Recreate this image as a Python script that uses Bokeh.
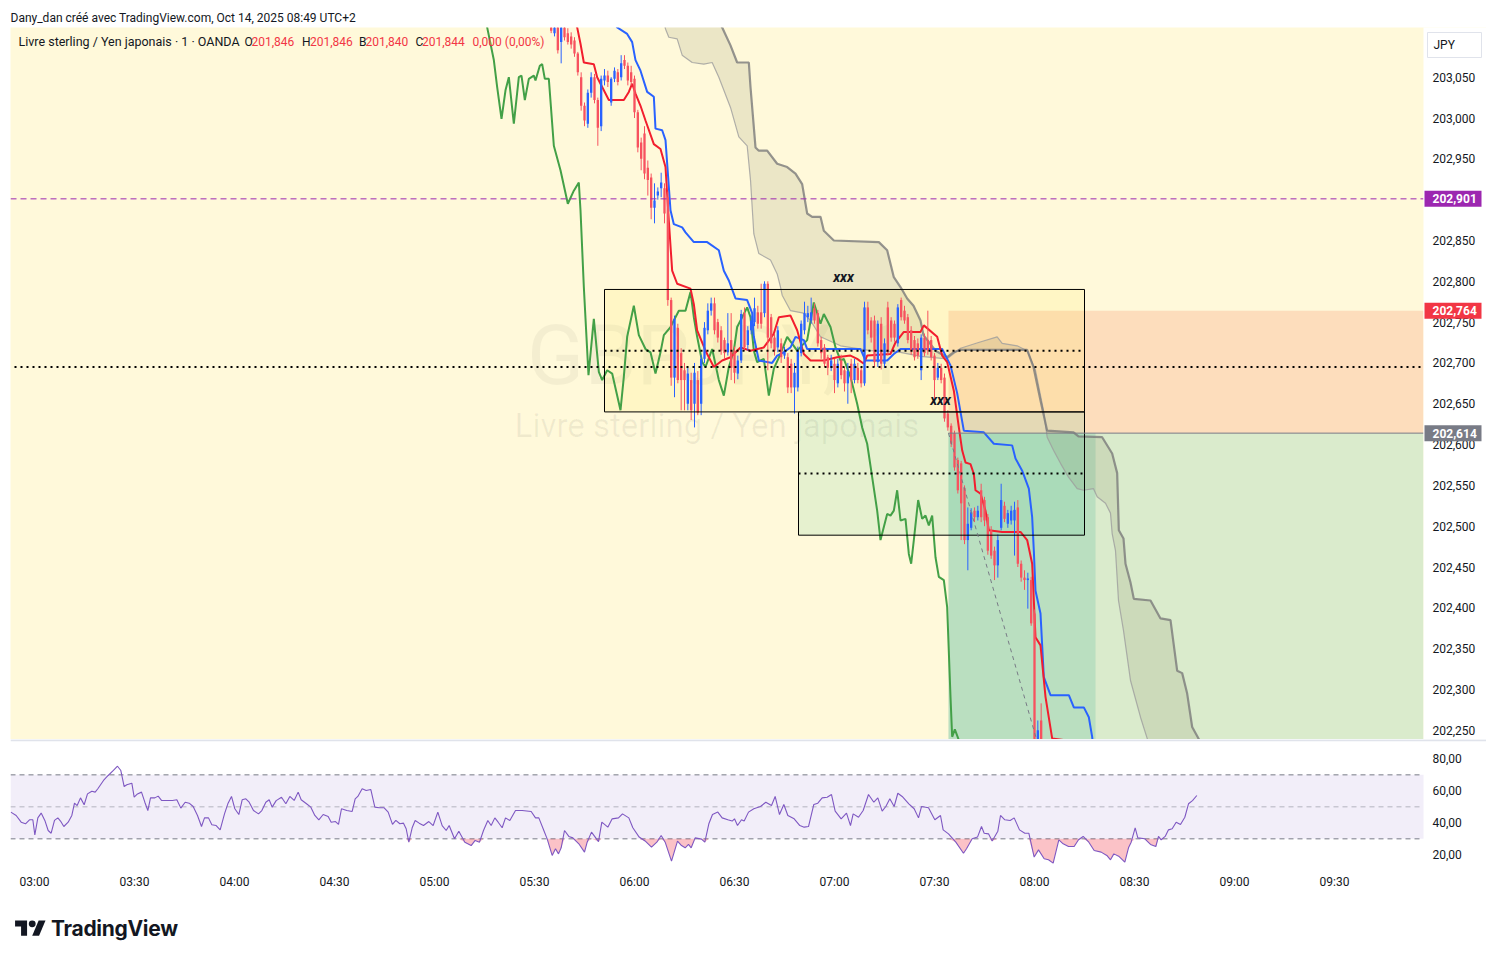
import numpy as np
from bokeh.plotting import figure
from bokeh.models import (Range1d, FixedTicker, CustomJSTickFormatter, Span, Label, Div, Title)
from bokeh.layouts import column
from bokeh.embed import file_html
from bokeh.resources import INLINE
from bokeh.core.properties import value

FONT = "Roboto"
INK = "#131722"
UP = "#2962FF"
DOWN = "#F7525F"

# ---------------- axes ----------------
time_ticks = [180, 210, 240, 270, 300, 330, 360, 390, 420, 450, 480, 510, 540, 570]  # minutes after midnight
price_ticks = [202.25, 202.30, 202.35, 202.40, 202.45, 202.50, 202.55, 202.60, 202.65,
               202.70, 202.75, 202.80, 202.85, 202.90, 202.95, 203.00, 203.05]
rsi_ticks = [20, 40, 60, 80]

# ---------------- 1-minute candles GBP/JPY (05:35 -> 08:02) ----------------
candle_time = list(range(335, 483))
candles_ohlc = [
    (203.120, 203.126, 203.104, 203.107), (203.104, 203.120, 203.100, 203.115),
    (203.111, 203.118, 203.079, 203.083), (203.093, 203.130, 203.067, 203.116),
    (203.118, 203.125, 203.095, 203.099), (203.104, 203.110, 203.090, 203.093),
    (203.100, 203.105, 203.085, 203.090), (203.095, 203.099, 203.075, 203.079),
    (203.079, 203.081, 203.052, 203.056), (203.050, 203.056, 203.009, 203.015),
    (203.015, 203.019, 202.990, 202.997), (202.993, 203.035, 202.988, 203.031),
    (203.031, 203.056, 203.025, 203.050), (203.050, 203.054, 203.018, 203.022),
    (203.022, 203.025, 202.966, 202.988), (202.990, 203.052, 202.984, 203.048),
    (203.046, 203.060, 203.040, 203.052), (203.052, 203.058, 203.038, 203.044),
    (203.019, 203.050, 203.015, 203.048), (203.048, 203.062, 203.044, 203.058),
    (203.056, 203.060, 203.040, 203.044), (203.050, 203.077, 203.046, 203.067),
    (203.071, 203.077, 203.060, 203.064), (203.064, 203.068, 203.040, 203.046),
    (203.056, 203.064, 203.040, 203.044), (203.048, 203.052, 203.000, 203.007),
    (203.007, 203.010, 202.958, 202.964), (202.970, 202.976, 202.936, 202.950),
    (202.981, 202.990, 202.925, 202.932), (202.939, 202.948, 202.905, 202.924),
    (202.927, 202.932, 202.876, 202.890), (202.890, 202.920, 202.871, 202.899),
    (202.905, 202.915, 202.900, 202.910), (202.914, 202.933, 202.903, 202.921),
    (202.914, 202.920, 202.871, 202.883), (202.903, 202.910, 202.770, 202.777),
    (202.777, 202.780, 202.672, 202.682), (202.682, 202.758, 202.658, 202.754),
    (202.743, 202.748, 202.675, 202.679), (202.712, 202.718, 202.642, 202.679),
    (202.691, 202.700, 202.642, 202.679), (202.650, 202.694, 202.642, 202.687),
    (202.679, 202.688, 202.630, 202.642), (202.650, 202.700, 202.621, 202.688),
    (202.679, 202.690, 202.636, 202.639), (202.650, 202.710, 202.636, 202.705),
    (202.705, 202.750, 202.700, 202.743), (202.740, 202.773, 202.735, 202.764),
    (202.764, 202.780, 202.758, 202.773), (202.773, 202.780, 202.735, 202.740),
    (202.750, 202.754, 202.725, 202.731), (202.740, 202.745, 202.710, 202.715),
    (202.728, 202.731, 202.705, 202.712), (202.713, 202.761, 202.709, 202.724),
    (202.728, 202.761, 202.679, 202.694), (202.715, 202.720, 202.675, 202.688),
    (202.687, 202.709, 202.680, 202.703), (202.703, 202.765, 202.700, 202.760),
    (202.761, 202.768, 202.715, 202.719), (202.722, 202.745, 202.715, 202.740),
    (202.740, 202.758, 202.735, 202.752), (202.750, 202.780, 202.745, 202.767),
    (202.762, 202.770, 202.742, 202.748), (202.762, 202.797, 202.742, 202.748),
    (202.761, 202.800, 202.756, 202.797), (202.797, 202.800, 202.691, 202.731),
    (202.756, 202.760, 202.718, 202.724), (202.731, 202.736, 202.709, 202.715),
    (202.719, 202.745, 202.713, 202.740), (202.724, 202.730, 202.700, 202.707),
    (202.709, 202.720, 202.705, 202.715), (202.707, 202.712, 202.663, 202.670),
    (202.699, 202.705, 202.663, 202.670), (202.670, 202.700, 202.638, 202.688),
    (202.670, 202.720, 202.665, 202.715), (202.712, 202.752, 202.708, 202.748),
    (202.740, 202.775, 202.735, 202.761), (202.756, 202.770, 202.750, 202.761),
    (202.752, 202.780, 202.748, 202.762), (202.767, 202.773, 202.748, 202.752),
    (202.761, 202.765, 202.720, 202.724), (202.728, 202.732, 202.705, 202.712),
    (202.719, 202.723, 202.695, 202.699), (202.707, 202.710, 202.685, 202.694),
    (202.694, 202.710, 202.690, 202.703), (202.699, 202.705, 202.663, 202.679),
    (202.675, 202.705, 202.670, 202.699), (202.703, 202.710, 202.680, 202.685),
    (202.691, 202.695, 202.665, 202.675), (202.675, 202.700, 202.650, 202.690),
    (202.699, 202.705, 202.663, 202.679), (202.679, 202.705, 202.675, 202.699),
    (202.694, 202.700, 202.675, 202.679), (202.691, 202.695, 202.670, 202.675),
    (202.675, 202.775, 202.672, 202.768), (202.768, 202.775, 202.735, 202.740),
    (202.752, 202.756, 202.725, 202.731), (202.752, 202.758, 202.695, 202.701),
    (202.701, 202.752, 202.695, 202.748), (202.748, 202.756, 202.692, 202.699),
    (202.699, 202.730, 202.694, 202.724), (202.768, 202.775, 202.709, 202.713),
    (202.752, 202.756, 202.726, 202.731), (202.748, 202.752, 202.726, 202.731),
    (202.724, 202.772, 202.720, 202.768), (202.777, 202.780, 202.752, 202.756),
    (202.764, 202.770, 202.748, 202.752), (202.756, 202.760, 202.724, 202.728),
    (202.740, 202.745, 202.710, 202.715), (202.728, 202.733, 202.703, 202.707),
    (202.724, 202.730, 202.705, 202.709), (202.691, 202.735, 202.679, 202.731),
    (202.731, 202.736, 202.708, 202.712), (202.728, 202.764, 202.710, 202.715),
    (202.728, 202.733, 202.703, 202.707), (202.709, 202.712, 202.654, 202.679),
    (202.682, 202.700, 202.679, 202.694), (202.694, 202.699, 202.675, 202.679),
    (202.682, 202.687, 202.628, 202.632), (202.638, 202.642, 202.617, 202.621),
    (202.623, 202.626, 202.597, 202.601), (202.614, 202.617, 202.568, 202.572),
    (202.581, 202.584, 202.540, 202.544), (202.577, 202.580, 202.483, 202.528),
    (202.547, 202.550, 202.478, 202.483), (202.483, 202.523, 202.446, 202.503),
    (202.498, 202.522, 202.495, 202.517), (202.519, 202.523, 202.505, 202.511),
    (202.511, 202.525, 202.507, 202.519), (202.544, 202.552, 202.505, 202.511),
    (202.532, 202.536, 202.500, 202.507), (202.511, 202.515, 202.465, 202.470),
    (202.495, 202.500, 202.460, 202.464), (202.470, 202.475, 202.434, 202.452),
    (202.452, 202.490, 202.437, 202.483), (202.498, 202.552, 202.495, 202.532),
    (202.525, 202.530, 202.505, 202.509), (202.503, 202.520, 202.498, 202.516),
    (202.507, 202.525, 202.502, 202.519), (202.507, 202.530, 202.464, 202.520),
    (202.523, 202.532, 202.450, 202.454), (202.454, 202.458, 202.432, 202.437),
    (202.437, 202.446, 202.422, 202.434), (202.434, 202.443, 202.399, 202.436),
    (202.434, 202.438, 202.378, 202.381), (202.393, 202.398, 202.180, 202.190),
    (202.190, 202.262, 202.185, 202.250), (202.262, 202.283, 202.205, 202.215),
]
open_, high, low, close = (list(v) for v in zip(*candles_ohlc))

# ---------------- Ichimoku-like lines ----------------
kijun_time = [352.8, 354.8, 357.8, 359.3, 360.3, 361.8, 363.8, 365.8, 366.3, 368.3, 369.3, 370.8,
              371.8, 374.3, 375.3, 377.8, 381.8, 385.3, 386.8, 388.3, 390.3, 393.8, 395.3, 395.8,
              397.3, 401.3, 402.8, 404.8, 406.8, 408.3, 410.8, 411.8, 427.8, 429.3, 435.8, 437.8,
              439.8, 452.3, 454.8, 456.8, 458.8, 464.8, 467.8, 473.3, 474.3, 476.3, 478.3, 479.3,
              479.8, 480.3, 481.8, 482.8, 484.8, 490.3, 491.8, 494.8, 496.3, 497.3, 498.0]
kijun = [203.126, 203.111, 203.103, 203.093, 203.071, 203.058, 203.032, 203.026, 202.987, 202.985,
         202.973, 202.887, 202.870, 202.866, 202.860, 202.848, 202.848, 202.838, 202.813, 202.801,
         202.779, 202.777, 202.761, 202.732, 202.703, 202.700, 202.709, 202.713, 202.719, 202.732,
         202.728, 202.717, 202.717, 202.703, 202.703, 202.711, 202.717, 202.717, 202.697, 202.663,
         202.617, 202.615, 202.601, 202.599, 202.583, 202.568, 202.546, 202.511, 202.470, 202.421,
         202.393, 202.315, 202.293, 202.293, 202.278, 202.278, 202.266, 202.242, 202.213]

tenkan_time = [340.8, 342.8, 343.8, 344.8, 347.8, 348.8, 352.3, 356.8, 358.3, 359.3, 360.3, 361.8,
               363.3, 365.8, 367.8, 369.3, 370.3, 371.3, 372.8, 376.8, 377.8, 378.8, 381.3, 383.8,
               386.3, 388.8, 391.8, 394.8, 398.8, 401.8, 403.3, 406.8, 408.8, 410.8, 412.8, 416.8,
               420.8, 424.8, 426.8, 428.8, 429.8, 436.8, 438.3, 440.8, 445.8, 446.8, 450.8, 452.3,
               453.8, 455.8, 457.3, 458.3, 459.3, 460.8, 461.8, 462.3, 463.8, 465.3, 466.3, 470.3,
               475.8, 477.8, 479.3, 480.3, 481.8, 483.3, 485.3, 488.8]
tenkan = [203.126, 203.111, 203.091, 203.068, 203.066, 203.050, 203.022, 203.022, 203.032, 203.042,
          203.030, 203.015, 202.997, 202.968, 202.962, 202.940, 202.874, 202.813, 202.797, 202.791,
          202.772, 202.740, 202.715, 202.695, 202.703, 202.707, 202.719, 202.715, 202.719, 202.736,
          202.756, 202.758, 202.740, 202.711, 202.703, 202.703, 202.707, 202.709, 202.705, 202.699,
          202.709, 202.711, 202.725, 202.738, 202.738, 202.746, 202.732, 202.709, 202.701, 202.666,
          202.621, 202.593, 202.578, 202.576, 202.564, 202.544, 202.540, 202.519, 202.495, 202.493,
          202.493, 202.483, 202.454, 202.364, 202.354, 202.291, 202.240, 202.238]

lagging_time = [315.0, 315.8, 317.8, 318.8, 320.1, 321.3, 322.3, 323.8, 325.3, 326.1,
                327.1, 328.3, 329.8, 330.3, 331.6, 332.3, 333.1, 334.3, 335.8, 337.8,
                340.0, 341.8, 343.3, 343.8, 344.8, 346.2, 347.8, 349.3, 350.3, 351.8,
                353.3, 355.8, 356.8, 357.8, 359.8, 361.3, 363.3, 364.8, 366.3, 367.8,
                368.8, 370.8, 373.3, 375.3, 376.8, 377.8, 378.8, 380.3, 381.3, 383.3,
                385.3, 386.8, 388.3, 389.8, 390.8, 392.8, 393.8, 394.8, 395.8, 396.8,
                398.8, 400.3, 401.8, 403.8, 405.8, 408.8, 411.8, 413.8, 415.8, 416.8,
                418.8, 420.3, 421.8, 422.8, 424.8, 426.8, 428.3, 429.8, 431.3, 432.8,
                433.8, 434.8, 435.8, 436.8, 437.8, 438.8, 439.8, 441.3, 442.3, 443.0,
                443.8, 445.1, 446.3, 447.3, 448.3, 449.3, 450.3, 451.3, 452.8, 453.8,
                454.8, 455.3, 456.1, 457.3, 458.4]
lagging = [203.126, 203.111, 203.071, 203.038, 202.999, 203.034, 203.050, 202.993, 203.050, 203.052,
           203.022, 203.048, 203.052, 203.046, 203.064, 203.066, 203.048, 203.048, 202.966, 202.936,
           202.895, 202.911, 202.921, 202.887, 202.793, 202.685, 202.754, 202.689, 202.679, 202.691,
           202.687, 202.642, 202.683, 202.732, 202.770, 202.734, 202.717, 202.713, 202.687, 202.713,
           202.734, 202.744, 202.764, 202.764, 202.787, 202.756, 202.732, 202.701, 202.695, 202.717,
           202.679, 202.660, 202.695, 202.715, 202.744, 202.760, 202.768, 202.756, 202.715, 202.701,
           202.705, 202.660, 202.693, 202.711, 202.732, 202.715, 202.728, 202.774, 202.748, 202.760,
           202.744, 202.719, 202.703, 202.705, 202.683, 202.650, 202.621, 202.601, 202.560, 202.519,
           202.483, 202.499, 202.515, 202.513, 202.519, 202.544, 202.507, 202.509, 202.466, 202.454,
           202.483, 202.532, 202.509, 202.513, 202.501, 202.513, 202.462, 202.438, 202.434, 202.401,
           202.291, 202.242, 202.251, 202.238, 202.213]

span_a_time = [368.4, 369.3, 370.3, 372.8, 374.3, 377.3, 380.8, 383.3, 385.3, 388.8,
               391.3, 393.8, 394.8, 395.8, 397.3, 400.8, 402.8, 403.8, 404.3, 406.8,
               410.7, 412.8, 415.8, 421.8, 430.8, 439.8, 445.8, 453.8, 457.8, 463.2,
               468.8, 470.3, 474.8, 477.8, 480.3, 482.7, 483.8, 485.7, 487.8, 490.2,
               492.8, 494.7, 497.7, 498.8, 501.3, 502.8, 503.3, 504.3, 505.2, 506.7,
               508.8, 511.8, 513.8, 515.4]
span_a = [203.126, 203.109, 203.099, 203.097, 203.077, 203.068, 203.066, 203.068, 203.050, 203.013,
          202.977, 202.966, 202.924, 202.858, 202.834, 202.826, 202.809, 202.793, 202.783, 202.764,
          202.761, 202.752, 202.732, 202.721, 202.715, 202.713, 202.708, 202.705, 202.718, 202.725,
          202.732, 202.724, 202.721, 202.715, 202.691, 202.642, 202.609, 202.593, 202.577, 202.560,
          202.546, 202.544, 202.546, 202.536, 202.528, 202.516, 202.491, 202.470, 202.409, 202.372,
          202.311, 202.266, 202.240, 202.219]

span_b_time = [384.3, 386.3, 388.8, 390.8, 394.3, 394.8, 396.3, 397.3, 399.8, 402.8,
               405.8, 408.3, 410.3, 411.8, 413.3, 415.8, 416.8, 419.8, 433.3, 435.8,
               437.8, 439.8, 441.8, 443.7, 445.8, 446.7, 450.3, 453.8, 455.7, 457.8,
               477.8, 479.7, 481.8, 483.8, 491.7, 493.2, 500.3, 503.3, 504.8, 505.3,
               506.7, 507.3, 508.8, 509.8, 514.8, 517.8, 520.8, 522.8, 524.3, 525.8,
               527.3, 529.2, 531.3]
span_b = [203.126, 203.111, 203.089, 203.068, 203.068, 203.038, 202.964, 202.960, 202.960, 202.944,
          202.940, 202.932, 202.919, 202.883, 202.879, 202.879, 202.862, 202.850, 202.848, 202.838,
          202.805, 202.793, 202.779, 202.770, 202.752, 202.734, 202.715, 202.707, 202.713, 202.716,
          202.716, 202.695, 202.654, 202.617, 202.615, 202.610, 202.609, 202.589, 202.565, 202.495,
          202.485, 202.454, 202.431, 202.411, 202.409, 202.387, 202.385, 202.323, 202.320, 202.295,
          202.254, 202.240, 202.219]

# ---------------- RSI (time, value) ----------------
rsi_points = [
    (172.9, 46.7), (174.5, 44.6), (176.0, 40.4), (177.3, 39.4), (178.5, 41.9), (179.5, 41.9),
    (180.1, 32.5), (181.0, 43.1), (182.0, 46.1), (183.1, 41.5), (184.1, 35.2), (185.0, 33.5),
    (186.0, 41.5), (187.0, 43.1), (187.8, 41.1), (188.8, 37.7), (190.1, 40.4), (191.2, 44.6),
    (192.0, 52.3), (192.8, 50.8), (193.8, 55.6), (194.9, 51.3), (195.9, 58.1), (197.2, 59.8),
    (198.2, 59.2), (199.0, 61.3), (200.7, 66.5), (202.1, 69.6), (203.6, 72.7), (204.9, 75.4),
    (205.9, 72.7), (206.9, 62.7), (207.7, 63.8), (209.2, 64.8), (209.9, 56.1), (210.9, 58.1),
    (212.1, 59.2), (213.1, 52.9), (214.0, 47.7), (214.8, 55.6), (216.1, 55.6), (217.1, 56.7),
    (218.1, 54.0), (219.6, 54.0), (221.4, 54.0), (222.7, 54.4), (223.9, 49.2), (225.2, 52.9),
    (226.4, 52.3), (227.6, 50.2), (228.9, 44.6), (230.1, 37.7), (231.0, 43.1), (232.2, 43.1),
    (233.2, 38.8), (234.5, 38.3), (235.7, 35.6), (237.0, 45.6), (238.0, 51.9), (239.1, 56.5),
    (240.1, 48.8), (241.3, 45.2), (242.3, 54.4), (243.4, 55.0), (244.4, 52.9), (245.7, 47.7),
    (247.2, 45.6), (248.2, 47.7), (249.4, 52.9), (250.4, 54.4), (251.3, 49.8), (252.5, 53.9),
    (254.1, 56.0), (255.4, 51.9), (256.6, 56.5), (257.9, 54.0), (259.1, 59.2), (260.0, 54.4),
    (261.6, 51.9), (262.9, 49.8), (264.1, 44.6), (265.3, 41.9), (266.6, 45.2), (268.1, 44.0),
    (269.0, 40.4), (270.3, 40.8), (271.2, 39.0), (272.1, 48.8), (273.7, 47.7), (275.3, 47.1),
    (276.2, 55.0), (277.0, 56.5), (278.3, 61.3), (279.5, 60.2), (280.9, 60.8), (282.1, 49.8),
    (283.4, 49.4), (284.9, 49.4), (286.1, 46.7), (287.4, 39.0), (288.4, 41.5), (289.6, 39.4),
    (290.7, 39.8), (291.5, 36.3), (292.3, 27.9), (293.3, 36.9), (294.2, 41.5), (295.4, 39.8),
    (296.7, 38.3), (298.3, 40.8), (299.6, 38.3), (301.0, 46.7), (302.3, 38.3), (303.5, 35.2),
    (304.4, 38.3), (306.0, 30.0), (307.3, 34.8), (309.1, 27.9), (311.0, 25.8), (312.2, 29.0),
    (313.5, 27.9), (314.7, 35.2), (316.0, 41.5), (317.0, 38.3), (318.1, 43.1), (319.1, 40.4),
    (320.3, 36.9), (321.3, 43.1), (322.6, 41.5), (324.3, 47.7), (326.3, 47.7), (329.0, 47.1),
    (330.3, 43.1), (331.3, 43.1), (332.8, 35.2), (333.8, 30.0), (335.3, 19.6), (336.3, 23.8),
    (337.2, 20.6), (338.0, 24.4), (339.0, 35.2), (340.3, 31.5), (341.5, 30.6), (343.3, 26.9),
    (345.0, 21.7), (345.8, 27.9), (347.1, 34.2), (349.2, 28.3), (350.2, 40.4), (352.0, 37.3),
    (353.3, 42.5), (355.2, 43.1), (356.4, 45.6), (358.3, 43.1), (359.5, 36.9), (361.4, 31.1),
    (363.4, 28.3), (365.1, 24.8), (366.7, 27.9), (368.0, 32.1), (369.2, 27.9), (371.1, 16.1),
    (372.9, 28.6), (374.1, 25.8), (375.2, 24.4), (376.2, 26.5), (377.0, 24.4), (378.2, 30.6),
    (380.1, 29.8), (381.1, 27.9), (382.3, 39.4), (383.4, 45.2), (385.0, 46.7), (386.3, 43.1),
    (388.0, 41.9), (389.3, 41.1), (390.0, 42.5), (390.9, 38.3), (392.1, 41.9), (392.9, 41.1),
    (394.2, 46.7), (395.8, 48.8), (397.8, 50.2), (399.4, 52.9), (401.1, 50.8), (402.2, 56.5),
    (403.5, 45.2), (404.8, 51.5), (406.0, 44.6), (407.9, 42.5), (409.6, 38.3), (410.9, 37.3),
    (412.2, 37.7), (413.8, 51.5), (415.0, 52.3), (416.3, 55.6), (417.8, 56.0), (419.1, 57.7),
    (420.2, 47.3), (422.0, 42.5), (423.6, 46.1), (424.8, 38.3), (425.6, 45.6), (427.2, 43.5),
    (428.6, 47.7), (430.2, 57.7), (431.8, 52.9), (433.0, 55.6), (434.3, 47.3), (435.4, 50.2),
    (436.6, 55.0), (437.9, 50.2), (439.0, 58.5), (440.3, 56.5), (442.3, 51.9), (443.9, 48.8),
    (445.2, 43.1), (446.1, 50.2), (448.2, 49.4), (450.1, 41.9), (451.8, 44.6), (452.6, 35.6),
    (454.2, 33.1), (456.4, 27.9), (458.7, 21.0), (459.6, 23.8), (461.3, 30.0), (462.9, 31.1),
    (464.1, 37.7), (464.9, 33.5), (466.2, 33.1), (467.3, 28.6), (469.0, 34.8), (469.8, 44.6),
    (471.1, 41.9), (472.7, 41.5), (473.9, 43.1), (475.5, 35.6), (477.1, 33.5), (478.3, 33.5),
    (479.9, 18.6), (481.2, 23.1), (482.9, 17.5), (484.2, 16.9), (485.6, 14.8), (487.3, 29.4),
    (488.6, 26.9), (490.2, 25.2), (491.9, 25.2), (493.2, 29.4), (494.6, 31.5), (496.3, 27.9),
    (497.9, 22.7), (500.0, 21.7), (501.7, 19.6), (502.8, 16.9), (503.8, 20.6), (505.4, 18.9),
    (507.1, 15.4), (508.2, 24.4), (509.0, 27.9), (510.2, 36.9), (511.0, 30.6), (513.1, 30.0),
    (514.8, 26.5), (516.4, 25.2), (517.2, 31.5), (518.0, 29.4), (519.2, 31.5), (520.2, 35.6),
    (521.3, 36.3), (522.5, 40.4), (523.8, 38.9), (525.1, 43.5), (526.2, 51.9), (527.4, 53.9),
    (528.7, 57.1),
]
rsi_time, rsi_value = (list(v) for v in zip(*rsi_points))
rsi_upper, rsi_mid, rsi_lower = 70, 50, 30

# ---------------- drawings ----------------
purple_level = 202.901
hline_level = 202.695
hline_start = 174.0
box_left = [351.0, 409.2]
box_right = [495.0, 495.0]
box_top = [202.790, 202.640]
box_bottom = [202.640, 202.489]
box_colors = ["#FFEB3B", "#3CBE8C"]
mark_time = [422.7, 451.8]
mark_price = [202.805, 202.654]
mark_text = ["xxx", "xxx"]
pos_start, pos_active_end = 454.2, 498.3
pos_entry, pos_stop, pos_target = 202.614, 202.764, 202.100
trade_path_time = [454.2, 481.8]
trade_path_price = [202.614, 202.222]
tag_levels = [purple_level, pos_stop, pos_entry]
tag_colors = ["#9C27B0", "#F23645", "#787B86"]

# ---------------- geometry of the panes ----------------
T0, T_PANE = 172.8, 596.7          # visible time span of the chart panes
MIN_PER_PX = 0.3                    # 1 minute = 3.33 px
P_LO, P_HI = 202.2387, 203.1109
R_LO, R_HI = 10.2, 92.1
FRAME_W, FRAME_H = 1413, 712
SCALE_W = 63                        # width of the right-hand scale strip
T_END = T_PANE + SCALE_W * MIN_PER_PX
PRICE_PER_PX = (P_HI - P_LO) / FRAME_H
LABEL_X = T_PANE + 9 * MIN_PER_PX

def fmt_price(v):
    return f"{v:.3f}".replace(".", ",")

# ================= price pane (frame includes the price scale strip) =================
p1 = figure(width=1486, height=739, x_range=Range1d(T0, T_END), y_range=Range1d(P_LO, P_HI),
            output_backend="svg", toolbar_location=None,
            x_axis_location=None, y_axis_location=None,
            min_border_left=10, min_border_right=0, min_border_top=27, min_border_bottom=0,
            background_fill_color="#FFF9DA", border_fill_color=None,
            outline_line_color=None)
p1.add_layout(Title(text="Dany_dan créé avec TradingView.com, Oct 14, 2025 08:49 UTC+2",
                    text_font=FONT, text_font_size="12px", text_font_style="normal",
                    text_color=INK, align="left", standoff=6), "above")
p1.grid.visible = False

# watermark
p1.add_layout(Label(x=FRAME_W / 2, y=384, x_units="screen", y_units="screen", text="GBPJPY, 1",
                    text_font=FONT, text_font_size="84px", text_color="#000000", text_alpha=0.045,
                    text_align="center", text_baseline="middle", level="underlay"))
p1.add_layout(Label(x=FRAME_W / 2, y=314, x_units="screen", y_units="screen",
                    text="Livre sterling / Yen japonais",
                    text_font=FONT, text_font_size="33px", text_color="#000000", text_alpha=0.06,
                    text_align="center", text_baseline="middle", level="underlay"))

# position tool (short)
p1.quad(left=[pos_start], right=[T_PANE], bottom=[pos_entry], top=[pos_stop],
        fill_color="#F57C52", fill_alpha=0.22, line_color=None)
p1.quad(left=[pos_start], right=[T_PANE], bottom=[pos_target], top=[pos_entry],
        fill_color="#089981", fill_alpha=0.15, line_color=None)
p1.quad(left=[pos_start], right=[pos_active_end], bottom=[pos_target], top=[pos_entry],
        fill_color="#089981", fill_alpha=0.15, line_color=None)

# rectangles fill
p1.quad(left=box_left, right=box_right, bottom=box_bottom, top=box_top,
        fill_color=box_colors, fill_alpha=0.13, line_color=None)

# cloud
p1.patch(span_b_time + span_a_time[::-1], span_b + span_a[::-1],
         fill_color="#808060", fill_alpha=0.16, line_color=None)
p1.line(span_a_time, span_a, line_color="#9E9E9E", line_width=1.2, line_alpha=0.8)
p1.line(span_b_time, span_b, line_color="#7B7B7B", line_width=2.2, line_alpha=0.8)

# lines
p1.line(lagging_time, lagging, line_color="#43A047", line_width=2)
p1.line(kijun_time, kijun, line_color="#2962FF", line_width=2)
p1.line(tenkan_time, tenkan, line_color="#F21E2E", line_width=2)

# candles
colors = [UP if c >= o else DOWN for o, c in zip(open_, close)]
p1.segment(x0=candle_time, y0=low, x1=candle_time, y1=high, line_color=colors, line_width=1)
p1.vbar(x=candle_time, width=0.7, top=[max(o, c) for o, c in zip(open_, close)],
        bottom=[min(o, c) for o, c in zip(open_, close)], fill_color=colors, line_color=None)

# rectangles outline + middle dotted lines
p1.quad(left=box_left, right=box_right, bottom=box_bottom, top=box_top,
        fill_color=None, line_color="#000000", line_width=1)
box_mid = [(t + b) / 2 for t, b in zip(box_top, box_bottom)]
p1.segment(x0=box_left, y0=box_mid, x1=box_right, y1=box_mid,
           line_color="#000000", line_width=2, line_dash="2 4")

# horizontal levels
p1.segment(x0=[hline_start], y0=[hline_level], x1=[T_PANE], y1=[hline_level],
           line_color="#000000", line_width=2, line_dash="2 4")
p1.segment(x0=[T0], y0=[purple_level], x1=[T_PANE], y1=[purple_level],
           line_color="#9C27B0", line_width=1, line_dash="6 4")
p1.segment(x0=[pos_start], y0=[pos_entry], x1=[T_PANE], y1=[pos_entry],
           line_color="#787B86", line_width=1)
p1.line(trade_path_time, trade_path_price, line_color="#787B86", line_width=1, line_dash="4 4")

p1.text(x=mark_time, y=mark_price, text=mark_text, text_font=value(FONT),
        text_font_style="bold italic", text_font_size="14px", text_color=INK,
        text_align="center", text_baseline="middle")

# legend
legend_items = [
    (8, "Livre sterling / Yen japonais · 1 · OANDA", INK, "12.5px"),
    (234, "O", INK, "12px"), (241, "201,846", "#F23645", "12px"),
    (291.5, "H", INK, "12px"), (299.5, "201,846", "#F23645", "12px"),
    (348.5, "B", INK, "12px"), (355, "201,840", "#F23645", "12px"),
    (405, "C", INK, "12px"), (411.5, "201,844", "#F23645", "12px"),
    (462, "0,000 (0,00%)", "#F23645", "12px"),
]
for lx, txt, col, fs in legend_items:
    p1.add_layout(Label(x=lx, y=FRAME_H - 14, x_units="screen", y_units="screen", text=txt,
                        text_font=FONT, text_font_size=fs, text_color=col, text_baseline="middle"))

# ---- price scale (right strip of the frame) ----
p1.quad(left=[T_PANE], right=[T_END + 5], bottom=[P_LO - 1], top=[P_HI + 1],
        fill_color="white", line_color=None)
p1.text(x=[LABEL_X] * len(price_ticks), y=price_ticks, text=[fmt_price(v) for v in price_ticks],
        text_font=value(FONT), text_font_size="12px", text_color=INK,
        text_align="left", text_baseline="middle")
half_tag = 8 * PRICE_PER_PX
p1.quad(left=[T_PANE + 1 * MIN_PER_PX] * 3, right=[T_PANE + 58 * MIN_PER_PX] * 3,
        bottom=[v - half_tag for v in tag_levels], top=[v + half_tag for v in tag_levels],
        fill_color=tag_colors, line_color=None)
p1.text(x=[LABEL_X] * 3, y=tag_levels, text=[fmt_price(v) for v in tag_levels],
        text_font=value(FONT), text_font_size="12px", text_font_style="bold",
        text_color="white", text_align="left", text_baseline="middle")
# currency button
jpy_top = P_HI - 5 * PRICE_PER_PX
jpy_bottom = P_HI - 30 * PRICE_PER_PX
p1.quad(left=[T_PANE + 4 * MIN_PER_PX], right=[T_PANE + 58 * MIN_PER_PX],
        bottom=[jpy_bottom], top=[jpy_top], fill_color="white",
        line_color="#E0E3EB", line_width=1)
p1.text(x=[T_PANE + 10 * MIN_PER_PX], y=[(jpy_top + jpy_bottom) / 2], text=["JPY"],
        text_font=value(FONT), text_font_size="12px", text_color=INK,
        text_align="left", text_baseline="middle")

# ================= RSI pane =================
p2 = figure(width=1486, height=158, x_range=Range1d(T0, T_END), y_range=Range1d(R_LO, R_HI),
            output_backend="svg", toolbar_location=None, y_axis_location=None,
            min_border_left=10, min_border_right=0, min_border_top=0, min_border_bottom=27,
            background_fill_color="white", border_fill_color=None, outline_line_color=None)
p2.grid.visible = False
p2.quad(left=[T0], right=[T_PANE], bottom=[rsi_lower], top=[rsi_upper],
        fill_color="#7E57C2", fill_alpha=0.1, line_color=None)
p2.segment(x0=[T0] * 3, x1=[T_PANE] * 3, y0=[rsi_upper, rsi_mid, rsi_lower],
           y1=[rsi_upper, rsi_mid, rsi_lower], line_color="#787B86",
           line_alpha=[1.0, 0.5, 1.0], line_width=1, line_dash="5 4")
rsi_arr = np.array(rsi_value)
p2.varea(x=rsi_time, y1=np.minimum(rsi_arr, rsi_lower), y2=rsi_lower,
         fill_color="#F23645", fill_alpha=0.3)
p2.line(rsi_time, rsi_value, line_color="#7E57C2", line_width=1.1)
p2.text(x=[LABEL_X] * len(rsi_ticks), y=rsi_ticks,
        text=[f"{v:.2f}".replace(".", ",") for v in rsi_ticks],
        text_font=value(FONT), text_font_size="12px", text_color=INK,
        text_align="left", text_baseline="middle")
p2.add_layout(Span(location=R_HI - 0.4, dimension="width", line_color="#E0E3EB", line_width=2))

rx = p2.xaxis[0]
rx.ticker = FixedTicker(ticks=time_ticks)
rx.formatter = CustomJSTickFormatter(code="""
const h = Math.floor(tick / 60); const m = Math.round(tick - h * 60);
return String(h).padStart(2, '0') + ':' + String(m).padStart(2, '0');""")
rx.axis_line_color = None
rx.major_tick_line_color = None
rx.minor_tick_line_color = None
rx.major_tick_out = 0
rx.major_tick_in = 0
rx.minor_tick_out = 0
rx.major_label_text_font = FONT
rx.major_label_text_font_size = "12px"
rx.major_label_text_color = INK
rx.major_label_standoff = 4

logo = Div(width=400, height=61, text="""
<div style="display:flex;align-items:center;height:54px;padding-left:10px;">
<svg width="31" height="24" viewBox="0 0 36 28"><path d="M14 22H7V11H0V4h14v18z" fill="#131722"/>
<circle cx="20" cy="8" r="4" fill="#131722"/><path d="M28 22h-8l7.5-18h8L28 22z" fill="#131722"/></svg>
<span style="font-family:Inter,sans-serif;font-weight:700;font-size:21px;color:#131722;margin-left:5px;letter-spacing:-0.3px">TradingView</span>
</div>""")

layout = column(p1, p2, logo, spacing=0)
open("out.html", "w").write(file_html(layout, INLINE))
